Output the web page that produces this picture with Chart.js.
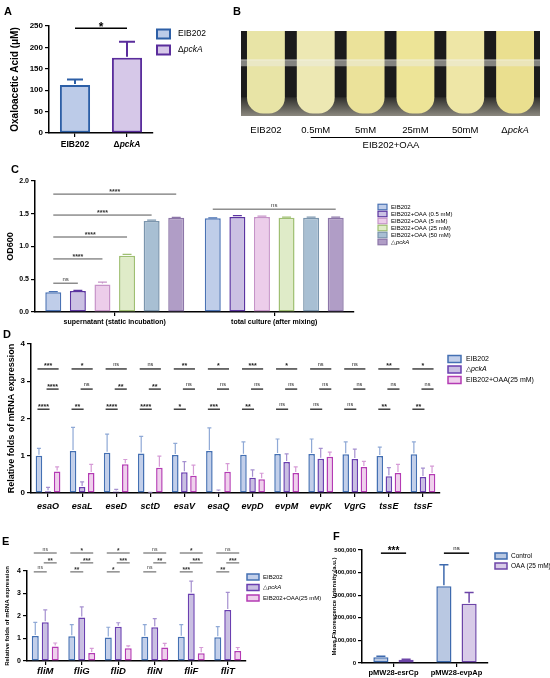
<!DOCTYPE html>
<html>
<head>
<meta charset="utf-8">
<script src="https://cdn.jsdelivr.net/npm/chart.js@4"></script>
<style>
  body { margin: 0; background: #fff; }
  #wrap { position: relative; width: 550px; height: 678px; overflow: hidden; font-family: "Liberation Sans", Arial, sans-serif; }
  canvas { position: absolute; }
  .lab { position: absolute; font-weight: bold; font-size: 11px; line-height: 11px; }
</style>
</head>
<body>
<div id="wrap">
  <canvas id="cA"></canvas>
  <canvas id="cB"></canvas>
  <canvas id="cC"></canvas>
  <canvas id="cD"></canvas>
  <canvas id="cE"></canvas>
  <canvas id="cF"></canvas>
  <div class="lab" style="left:4px;top:6px">A</div>
  <div class="lab" style="left:233px;top:6px">B</div>
  <div class="lab" style="left:11px;top:164px">C</div>
  <div class="lab" style="left:3px;top:329px">D</div>
  <div class="lab" style="left:2px;top:536px">E</div>
  <div class="lab" style="left:333px;top:531px">F</div>
</div>
<script>
// ---- data ----
// A: oxaloacetic acid
const aGroups = ['EIB202', 'ΔpckA'];
const aMeans = [112, 176];
const aSD = [13, 37];

// B: tube photo
const bLabels = ['EIB202', '0.5mM', '5mM', '25mM', '50mM', 'ΔpckA'];
const bFill = [1, 1, 1, 1, 1, 1];

// C: OD600
const cGroups = ['supernatant (static incubation)', 'total culture (after mixing)'];
const cSeries = ['EIB202', 'EIB202+OAA (0.5 mM)', 'EIB202+OAA (5 mM)', 'EIB202+OAA (25 mM)', 'EIB202+OAA (50 mM)', '△pckA'];
const cSuper = [0.30, 0.32, 0.42, 0.86, 1.39, 1.44];
const cSuperSD = [0.01, 0.01, 0.035, 0.02, 0.012, 0.006];
const cTotal = [1.43, 1.45, 1.45, 1.44, 1.44, 1.44];
const cTotalSD = [0.006, 0.02, 0.015, 0.008, 0.008, 0.01];
const cSigSuper = ['ns', '****', '****', '****', '****'];
const cSigTotal = ['ns'];

// D: T3SS / T6SS genes
const dGenes = ['esaO', 'esaL', 'eseD', 'sctD', 'esaV', 'esaQ', 'evpD', 'evpM', 'evpK', 'VgrG', 'tssE', 'tssF'];
const dWT = [1.00, 1.13, 1.08, 1.06, 1.02, 1.13, 1.03, 1.05, 1.05, 1.04, 0.99, 1.04];
const dWTsd = [0.20, 0.63, 0.50, 0.46, 0.31, 0.62, 0.34, 0.40, 0.40, 0.33, 0.24, 0.33];
const dPck = [0.05, 0.16, 0.04, 0.01, 0.56, 0.03, 0.41, 0.83, 0.92, 0.91, 0.45, 0.43];
const dPckSD = [0.10, 0.14, 0.06, 0.01, 0.28, 0.05, 0.21, 0.22, 0.28, 0.27, 0.23, 0.24];
const dOAA = [0.58, 0.54, 0.77, 0.68, 0.46, 0.57, 0.37, 0.54, 0.97, 0.70, 0.54, 0.51];
const dOAAsd = [0.12, 0.23, 0.13, 0.31, 0.29, 0.22, 0.16, 0.16, 0.13, 0.15, 0.23, 0.21];
const dSig1 = ['***', '*', 'ns', 'ns', '**', '*', '***', '*', 'ns', 'ns', '**', '*'];
const dSig2 = ['****', 'ns', '**', '**', 'ns', 'ns', 'ns', 'ns', 'ns', 'ns', 'ns', 'ns'];
const dSig3 = ['****', '**', '****', '****', '*', '***', '**', 'ns', 'ns', 'ns', '**', '**'];

// E: flagellar genes
const eGenes = ['fliM', 'fliG', 'fliD', 'fliN', 'fliF', 'fliT'];
const eWT = [1.11, 1.10, 1.05, 1.08, 1.08, 1.06];
const eWTsd = [0.61, 0.52, 0.45, 0.54, 0.54, 0.47];
const ePck = [1.72, 1.93, 1.52, 1.50, 3.00, 2.27];
const ePckSD = [0.55, 0.48, 0.18, 0.38, 0.55, 0.78];
const eOAA = [0.64, 0.36, 0.57, 0.60, 0.35, 0.44];
const eOAAsd = [0.16, 0.20, 0.10, 0.18, 0.25, 0.16];
const eSig1 = ['ns', '*', '*', 'ns', '*', 'ns'];
const eSig2 = ['**', '***', '***', '**', '***', '***'];
const eSig3 = ['ns', '**', '*', 'ns', '***', '**'];

// F: promoter fluorescence
const fPromoters = ['pMW28-esrCp', 'pMW28-evpAp'];
const fControl = [25000, 340000];
const fControlSD = [5000, 95000];
const fOAA = [14000, 262000];
const fOAASD = [3000, 50000];
const fSig = ['***', 'ns'];

// ---- helpers ----
const FONT = '"Liberation Sans", Arial, sans-serif';
Chart.defaults.font.family = FONT;
Chart.defaults.color = '#000';

function place(id, box) {
  const c = document.getElementById(id);
  c.width = box.w; c.height = box.h;
  c.style.left = box.x + 'px'; c.style.top = box.y + 'px';
  c.style.width = box.w + 'px'; c.style.height = box.h + 'px';
  return c;
}

function rich(str) {
  const i = str.indexOf('pckA');
  if (i < 0) return [[str, false]];
  return [[str.slice(0, i), false], ['pckA', true], [str.slice(i + 4), false]].filter(p => p[0]);
}

function drawParts(ctx, parts, x, y, size, weight, align) {
  const f = it => `${it ? 'italic ' : ''}${weight} ${size}px ${FONT}`;
  let w = 0;
  parts.forEach(([t, it]) => { ctx.font = f(it); w += ctx.measureText(t).width; });
  let cx = align === 'center' ? x - w / 2 : (align === 'right' ? x - w : x);
  ctx.textBaseline = 'middle';
  ctx.textAlign = 'left';
  ctx.fillStyle = '#000';
  parts.forEach(([t, it]) => { ctx.font = f(it); ctx.fillText(t, cx, y); cx += ctx.measureText(t).width; });
}

function barSet(label, data, fill, line, width, err) {
  return { label, data, backgroundColor: fill, borderColor: line, borderWidth: width, borderSkipped: false, errColor: err || line };
}

function yAxis(area, min, max, step, tickSize, titleText, titleSize, titlePad, fmt) {
  const ticks = { stepSize: step, font: { size: tickSize, weight: 'bold' }, color: '#000', padding: 2 };
  if (fmt) ticks.callback = fmt;
  return {
    min, max,
    afterFit: s => { s.width = area.l; },
    ticks,
    grid: { drawOnChartArea: false, drawTicks: true, tickLength: 4, color: '#000', lineWidth: 1.2 },
    border: { display: true, color: '#000', width: 1.5 },
    title: { display: true, text: titleText, color: '#000', font: { size: titleSize, weight: 'bold' }, padding: { top: titlePad, bottom: 0 } }
  };
}

function xAxis(box, area, tickFont, showTicks, pad) {
  return {
    afterFit: s => { s.height = box.h - area.b; },
    ticks: { display: showTicks, font: tickFont, color: '#000', padding: pad, maxRotation: 0, autoSkip: false },
    grid: { offset: false, drawOnChartArea: false, drawTicks: true, tickLength: 4, color: '#000', lineWidth: 1.2 },
    border: { display: true, color: '#000', width: 1.5 }
  };
}

function errorBars(sds, lw, capScale) {
  return {
    id: 'errs',
    afterDatasetsDraw(chart) {
      const ctx = chart.ctx, y = chart.scales.y;
      chart.data.datasets.forEach((ds, i) => {
        chart.getDatasetMeta(i).data.forEach((bar, j) => {
          const top = y.getPixelForValue(ds.data[j] + sds[i][j]);
          const cap = Math.max(2, bar.width * (capScale || 0.28));
          ctx.save();
          ctx.strokeStyle = ds.errColor;
          ctx.lineWidth = lw || 1.2;
          ctx.beginPath();
          ctx.moveTo(bar.x, bar.y - 1); ctx.lineTo(bar.x, top);
          ctx.moveTo(bar.x - cap, top); ctx.lineTo(bar.x + cap, top);
          ctx.stroke();
          ctx.restore();
        });
      });
    }
  };
}

function sigLines(items, o) {
  return {
    id: 'sig',
    afterDatasetsDraw(chart) {
      const ctx = chart.ctx, y = chart.scales.y;
      items.forEach(s => {
        const xa = chart.getDatasetMeta(s.a).data[s.cat].x - o.ext;
        const xb = chart.getDatasetMeta(s.b).data[s.cat].x + o.ext;
        const yy = y.getPixelForValue(s.level);
        ctx.save();
        ctx.strokeStyle = o.color;
        ctx.lineWidth = o.lw;
        ctx.beginPath(); ctx.moveTo(xa, yy); ctx.lineTo(xb, yy); ctx.stroke();
        const star = s.text.indexOf('*') >= 0;
        const size = star ? o.starSize : o.size;
        ctx.font = `${star ? 'bold' : 'normal'} ${size}px ${FONT}`;
        ctx.fillStyle = o.textColor;
        ctx.textAlign = 'center';
        ctx.textBaseline = 'alphabetic';
        ctx.fillText(s.text, (xa + xb) / 2, yy - o.gap + (star ? size * 0.35 : 0));
        ctx.restore();
      });
    }
  };
}

function legendBox(cfg) {
  return {
    id: 'leg',
    afterDraw(chart) {
      const ctx = chart.ctx;
      chart.data.datasets.forEach((ds, k) => {
        const y = cfg.y + k * cfg.step;
        ctx.save();
        ctx.fillStyle = ds.backgroundColor;
        ctx.fillRect(cfg.x, y - cfg.bh / 2, cfg.bw, cfg.bh);
        ctx.strokeStyle = ds.borderColor;
        ctx.lineWidth = cfg.lw;
        ctx.strokeRect(cfg.x, y - cfg.bh / 2, cfg.bw, cfg.bh);
        drawParts(ctx, rich(ds.label), cfg.x + cfg.bw + cfg.gap, y, cfg.size, 'normal', 'left');
        ctx.restore();
      });
    }
  };
}

function makeChart(id, box, area, config) {
  const c = place(id, box);
  config.options = Object.assign({
    responsive: false,
    animation: false,
    layout: { padding: { left: 0, top: area.t, right: box.w - area.r, bottom: 0 } }
  }, config.options);
  config.options.plugins = { legend: { display: false }, tooltip: { enabled: false } };
  return new Chart(c, config);
}

// ---- A ----
const boxA = { x: 0, y: 0, w: 230, h: 155 }, areaA = { l: 49, t: 26, r: 153, b: 133 };
makeChart('cA', boxA, areaA, {
  type: 'bar',
  data: {
    labels: aGroups,
    datasets: [{
      label: 'OAA', data: aMeans,
      backgroundColor: ['#bccbe8', '#d6c8e8'], borderColor: ['#2d5fa6', '#5a2d9c'],
      borderWidth: 2, borderSkipped: false, barPercentage: 0.58, categoryPercentage: 1
    }]
  },
  options: {
    scales: {
      x: xAxis(boxA, areaA, { size: 8 }, false, 2),
      y: yAxis(areaA, 0, 250, 50, 8, 'Oxaloacetic Acid (μM)', 10, 9)
    }
  },
  plugins: [{
    id: 'aExtra',
    afterDatasetsDraw(chart) {
      const ctx = chart.ctx, y = chart.scales.y, bars = chart.getDatasetMeta(0).data;
      const cols = ['#2d5fa6', '#5a2d9c'];
      bars.forEach((bar, j) => {
        const top = y.getPixelForValue(aMeans[j] + aSD[j]);
        ctx.save();
        ctx.strokeStyle = cols[j]; ctx.lineWidth = 2;
        ctx.beginPath();
        ctx.moveTo(bar.x, bar.y - 1); ctx.lineTo(bar.x, top);
        ctx.moveTo(bar.x - 8, top); ctx.lineTo(bar.x + 8, top);
        ctx.stroke();
        ctx.restore();
      });
      // significance
      const yy = y.getPixelForValue(245);
      ctx.save();
      ctx.strokeStyle = '#000'; ctx.lineWidth = 1.5;
      ctx.beginPath(); ctx.moveTo(bars[0].x, yy); ctx.lineTo(bars[1].x, yy); ctx.stroke();
      ctx.font = `bold 12px ${FONT}`; ctx.fillStyle = '#000'; ctx.textAlign = 'center'; ctx.textBaseline = 'alphabetic';
      ctx.fillText('*', (bars[0].x + bars[1].x) / 2, yy + 3);
      ctx.restore();
      const xs = chart.scales.x;
      aGroups.forEach((g, i) => drawParts(ctx, rich(g), xs.getPixelForValue(i), 145, 8.5, 'bold', 'center'));
      // legend
      const leg = [['EIB202', '#bccbe8', '#2d5fa6'], ['ΔpckA', '#d6c8e8', '#5a2d9c']];
      leg.forEach(([t, f, s], k) => {
        const ly = 34 + k * 16;
        ctx.save();
        ctx.fillStyle = f; ctx.fillRect(157, ly - 4.5, 13, 9);
        ctx.strokeStyle = s; ctx.lineWidth = 2; ctx.strokeRect(157, ly - 4.5, 13, 9);
        drawParts(ctx, rich(t), 178, ly, 8.5, 'normal', 'left');
        ctx.restore();
      });
    }
  }]
});

// ---- B ----
const boxB = { x: 230, y: 0, w: 320, h: 155 };
place('cB', boxB);
new Chart(document.getElementById('cB'), {
  type: 'bar',
  data: {
    labels: bLabels,
    datasets: [{
      data: bFill.map(v => [0.03, v]),
      backgroundColor: ['#e8e4a6', '#ede8b3', '#ebe29a', '#ede497', '#eee6a6', '#eadf8f'],
      borderWidth: 0, borderSkipped: false,
      borderRadius: { topLeft: 0, topRight: 0, bottomLeft: 16, bottomRight: 16 },
      barPercentage: 0.76, categoryPercentage: 1
    }]
  },
  options: {
    responsive: false, animation: false,
    layout: { padding: { left: 11, top: 31, right: 10, bottom: 39 } },
    plugins: { legend: { display: false }, tooltip: { enabled: false } },
    scales: { x: { display: false }, y: { display: false, min: 0, max: 1 } }
  },
  plugins: [{
    id: 'photo',
    beforeDatasetsDraw(chart) {
      const ctx = chart.ctx, a = chart.chartArea, y = chart.scales.y;
      ctx.save();
      ctx.fillStyle = '#1b1b1b';
      ctx.fillRect(a.left, a.top, a.right - a.left, a.bottom - a.top);
      const g0 = y.getPixelForValue(0.22);
      const grad = ctx.createLinearGradient(0, g0, 0, a.bottom);
      grad.addColorStop(0, '#2e2e2b');
      grad.addColorStop(1, '#8b887e');
      ctx.fillStyle = grad;
      ctx.fillRect(a.left, g0, a.right - a.left, a.bottom - g0);
      ctx.restore();
    },
    afterDatasetsDraw(chart) {
      const ctx = chart.ctx, a = chart.chartArea, y = chart.scales.y, xs = chart.scales.x;
      ctx.save();
      const t = y.getPixelForValue(0.665), b = y.getPixelForValue(0.585);
      ctx.fillStyle = 'rgba(235,235,228,0.5)';
      ctx.fillRect(a.left, t, a.right - a.left, b - t);
      ctx.fillStyle = 'rgba(255,255,255,0.35)';
      ctx.fillRect(a.left, t, a.right - a.left, 1);
      ctx.restore();
      bLabels.forEach((l, i) => drawParts(ctx, rich(l), xs.getPixelForValue(i), 130, 9.5, 'normal', 'center'));
      const x1 = xs.getPixelForValue(1) - 5, x4 = xs.getPixelForValue(4) + 6;
      ctx.save();
      ctx.strokeStyle = '#000'; ctx.lineWidth = 1;
      ctx.beginPath(); ctx.moveTo(x1, 137.5); ctx.lineTo(x4, 137.5); ctx.stroke();
      ctx.restore();
      drawParts(ctx, [['EIB202+OAA', false]], (x1 + x4) / 2, 145, 9.5, 'normal', 'center');
    }
  }]
});

// ---- C ----
const boxC = { x: 0, y: 160, w: 550, h: 170 }, areaC = { l: 35, t: 21, r: 354, b: 152 };
const cFill = ['#bfcde9', '#cbc1e3', '#eccdea', '#dfebc8', '#a8bfd3', '#b09dc6'];
const cLine = ['#4a72b4', '#5b34a0', '#c693c8', '#9fbf72', '#7b95ad', '#8c76a8'];
const cSets = cSeries.map((s, i) => Object.assign(barSet(s, [cSuper[i], cTotal[i]], cFill[i], cLine[i], 1.5),
  { barPercentage: 0.65, categoryPercentage: 0.925 }));
const cSigLevels = [0.44, 0.81, 1.145, 1.48, 1.80];
const cSigItems = cSigSuper.map((t, k) => ({ cat: 0, a: 0, b: k + 1, level: cSigLevels[k], text: t }))
  .concat(cSigTotal.map(t => ({ cat: 1, a: 0, b: 5, level: 1.57, text: t })));
makeChart('cC', boxC, areaC, {
  type: 'bar',
  data: { labels: cGroups, datasets: cSets },
  options: {
    scales: {
      x: xAxis(boxC, areaC, { size: 7, weight: 'bold' }, true, 2),
      y: yAxis(areaC, 0, 2, 0.5, 7, 'OD600', 9, 5, v => v.toFixed(1))
    }
  },
  plugins: [
    errorBars(cSeries.map((s, i) => [cSuperSD[i], cTotalSD[i]])),
    sigLines(cSigItems, { ext: 0, color: '#555', lw: 1, size: 6, starSize: 7, gap: 2.5, textColor: '#333' }),
    legendBox({ x: 378, y: 47, step: 7, bw: 9, bh: 5.5, gap: 4, size: 6, lw: 1.2 })
  ]
});

// ---- D ----
const boxD = { x: 0, y: 330, w: 550, h: 185 }, areaD = { l: 31, t: 14, r: 440, b: 163 };
const grpFill = ['#c2cfea', '#c9bfe2', '#efd0ec'];
const grpLine = ['#4470b3', '#6a3fb0', '#b43bb4'];
const grpErr = ['#8fa9d6', '#a590d0', '#d69bd6'];
const dSets = [
  barSet('EIB202', dWT, grpFill[0], grpLine[0], 1.5, grpErr[0]),
  barSet('△pckA', dPck, grpFill[1], grpLine[1], 1.5, grpErr[1]),
  barSet('EIB202+OAA(25 mM)', dOAA, grpFill[2], grpLine[2], 1.5, grpErr[2])
].map(ds => Object.assign(ds, { barPercentage: 0.72, categoryPercentage: 0.8 }));
const dSigItems = [].concat(
  dSig1.map((t, i) => ({ cat: i, a: 0, b: 2, level: 3.33, text: t })),
  dSig2.map((t, i) => ({ cat: i, a: 1, b: 2, level: 2.79, text: t })),
  dSig3.map((t, i) => ({ cat: i, a: 0, b: 1, level: 2.25, text: t }))
);
makeChart('cD', boxD, areaD, {
  type: 'bar',
  data: { labels: dGenes, datasets: dSets },
  options: {
    scales: {
      x: xAxis(boxD, areaD, { size: 9, weight: 'bold', style: 'italic' }, true, 4),
      y: yAxis(areaD, 0, 4, 1, 8, 'Relative folds of mRNA expression', 9, 6)
    }
  },
  plugins: [
    errorBars([dWTsd, dPckSD, dOAAsd]),
    sigLines(dSigItems, { ext: 1.5, color: '#111', lw: 1.2, size: 5.5, starSize: 7, gap: 3, textColor: '#222' }),
    legendBox({ x: 448, y: 29, step: 10.5, bw: 13, bh: 7, gap: 5, size: 7, lw: 1.5 })
  ]
});

// ---- E ----
const boxE = { x: 0, y: 530, w: 330, h: 148 }, areaE = { l: 27, t: 41, r: 246, b: 131 };
const eSets = [
  barSet('EIB202', eWT, grpFill[0], grpLine[0], 1.5, grpErr[0]),
  barSet('△pckA', ePck, grpFill[1], grpLine[1], 1.5, grpErr[1]),
  barSet('EIB202+OAA(25 mM)', eOAA, grpFill[2], grpLine[2], 1.5, grpErr[2])
].map(ds => Object.assign(ds, { barPercentage: 0.7, categoryPercentage: 0.82 }));
const eSigItems = [].concat(
  eSig1.map((t, i) => ({ cat: i, a: 0, b: 2, level: 4.8, text: t })),
  eSig2.map((t, i) => ({ cat: i, a: 1, b: 2, level: 4.36, text: t })),
  eSig3.map((t, i) => ({ cat: i, a: 0, b: 1, level: 3.96, text: t }))
);
makeChart('cE', boxE, areaE, {
  type: 'bar',
  data: { labels: eGenes, datasets: eSets },
  options: {
    scales: {
      x: xAxis(boxE, areaE, { size: 9.5, weight: 'bold', style: 'italic' }, true, 1),
      y: yAxis(areaE, 0, 4, 1, 7, 'Relative folds of mRNA expression', 6, 3.5)
    }
  },
  plugins: [
    errorBars([eWTsd, ePckSD, eOAAsd]),
    sigLines(eSigItems, { ext: 1.5, color: '#555', lw: 1, size: 5, starSize: 6.5, gap: 2.5, textColor: '#333' }),
    legendBox({ x: 247, y: 47, step: 10.5, bw: 12, bh: 6, gap: 4, size: 6, lw: 1.5 })
  ]
});

// ---- F ----
const boxF = { x: 300, y: 530, w: 250, h: 148 }, areaF = { l: 62, t: 20, r: 188, b: 133 };
const fSets = [
  barSet('Control', fControl, '#b9c8e2', '#3e6aae', 1.5),
  barSet('OAA (25 mM)', fOAA, '#d8cbe8', '#6d45a8', 1.5)
].map(ds => Object.assign(ds, { barPercentage: 0.6, categoryPercentage: 0.8 }));
makeChart('cF', boxF, areaF, {
  type: 'bar',
  data: { labels: fPromoters, datasets: fSets },
  options: {
    scales: {
      x: xAxis(boxF, areaF, { size: 7.5, weight: 'bold' }, true, 1),
      y: yAxis(areaF, 0, 500000, 100000, 6, 'Mean Fluorescence Intensity (a.u.)', 6, 31, v => v.toLocaleString('en-US'))
    }
  },
  plugins: [
    errorBars([fControlSD, fOAASD], 1.5, 0.3),
    sigLines(fSig.map((t, i) => ({ cat: i, a: 0, b: 1, level: 486000, text: t })),
      { ext: 0, color: '#000', lw: 1.5, size: 6, starSize: 10, gap: 3, textColor: '#000' }),
    legendBox({ x: 195, y: 26, step: 10, bw: 12, bh: 6, gap: 4, size: 6.5, lw: 1.5 })
  ]
});
</script>
</body>
</html>
